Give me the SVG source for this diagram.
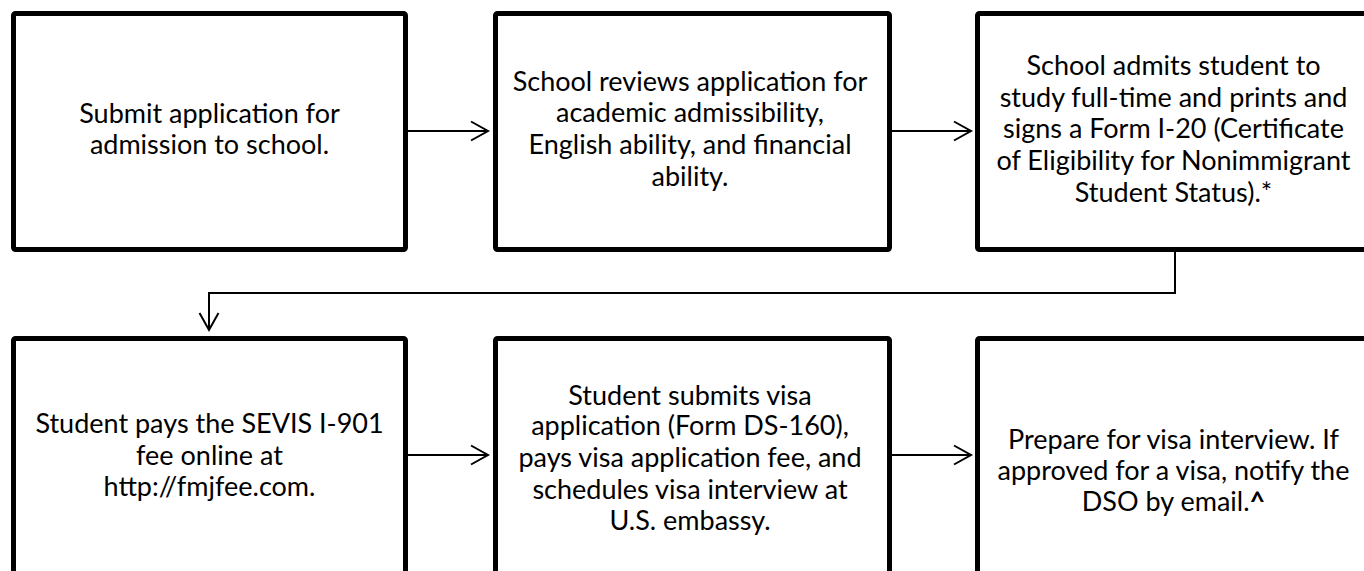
<svg xmlns="http://www.w3.org/2000/svg" width="1364" height="571" viewBox="0 0 1364 571">
<defs>
<style>
.box{fill:#fff;stroke:#000;stroke-width:5}
.t{font-family:Lato,"Liberation Sans",sans-serif;font-size:27px;fill:#000;text-anchor:middle}
.c{fill:none;stroke:#000;stroke-width:2}
</style>
<marker id="ah" markerUnits="userSpaceOnUse" markerWidth="24" markerHeight="24" refX="18" refY="11" orient="auto" viewBox="0 0 24 22">
<path d="M1,1.5 L18,11 L1,20.5" fill="none" stroke="#000" stroke-width="2"/>
</marker>
</defs>
<rect width="1364" height="571" fill="#fff"/>
<g id="n1">
<rect class="box" x="13.5" y="13.5" width="392" height="236" rx="2"/>
<text class="t"><tspan x="209.5" y="123">Submit application for</tspan><tspan x="209.5" y="154">admission to school.</tspan></text>
</g>
<g id="n2">
<rect class="box" x="495.5" y="13.5" width="394" height="236" rx="2"/>
<text class="t"><tspan x="690" y="91">School reviews application for</tspan><tspan x="690" y="122">academic admissibility,</tspan><tspan x="690" y="154">English ability, and financial</tspan><tspan x="690" y="186">ability.</tspan></text>
</g>
<g id="n3">
<rect class="box" x="977.5" y="13.5" width="394" height="236" rx="2"/>
<text class="t"><tspan x="1173.5" y="75">School admits student to</tspan><tspan x="1173.5" y="107">study full-time and prints and</tspan><tspan x="1173.5" y="138">signs a Form I-20 (Certificate</tspan><tspan x="1173.5" y="170">of Eligibility for Nonimmigrant</tspan><tspan x="1173.5" y="202">Student Status).*</tspan></text>
</g>
<g id="n4">
<rect class="box" x="13.5" y="338.5" width="392" height="236" rx="2"/>
<text class="t"><tspan x="209.5" y="433">Student pays the SEVIS I-901</tspan><tspan x="209.5" y="465">fee online at</tspan><tspan x="209.5" y="496">http://fmjfee.com.</tspan></text>
</g>
<g id="n5">
<rect class="box" x="495.5" y="338.5" width="394" height="236" rx="2"/>
<text class="t"><tspan x="690" y="405">Student submits visa</tspan><tspan x="690" y="435">application (Form DS-160),</tspan><tspan x="690" y="467">pays visa application fee, and</tspan><tspan x="690" y="499">schedules visa interview at</tspan><tspan x="690" y="530">U.S. embassy.</tspan></text>
</g>
<g id="n6">
<rect class="box" x="977.5" y="338.5" width="394" height="236" rx="2"/>
<text class="t"><tspan x="1173.5" y="449">Prepare for visa interview. If</tspan><tspan x="1173.5" y="480">approved for a visa, notify the</tspan><tspan x="1173.5" y="511">DSO by email.<tspan font-weight="bold">^</tspan></tspan></text>
</g>
<g id="connectors">
<path class="c" d="M408,131 H488" marker-end="url(#ah)"/>
<path class="c" d="M892,131 H971" marker-end="url(#ah)"/>
<path class="c" d="M1175,252 V293 H209 V330" marker-end="url(#ah)"/>
<path class="c" d="M408,455 H488" marker-end="url(#ah)"/>
<path class="c" d="M892,455 H971" marker-end="url(#ah)"/>
</g>
</svg>
